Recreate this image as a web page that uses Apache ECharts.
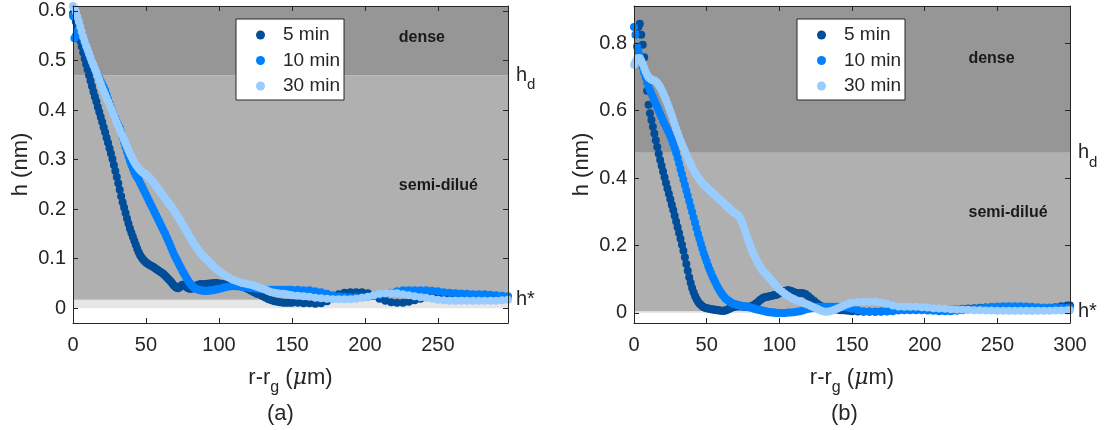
<!DOCTYPE html>
<html><head><meta charset="utf-8">
<script src="https://cdn.jsdelivr.net/npm/echarts@6/dist/echarts.min.js"></script>
<style>html,body{margin:0;padding:0;background:#fff}#c{width:1106px;height:430px}</style>
</head><body><div id="c"></div>
<script>
// sampling positions r-r_g (µm)
const xA = [0,1,2,3,4,5,6,7,8,9,10,11,12,13,14,15,16,17,18,19,20,21,22,23,24,25,26,27,28,29,
30,31,32,33,34,35,36,37,38,39,40,41,42,43,44,45,46,47,48,49,50,51,52,53,54,55,56,57,58,59,
60,61,62,63,64,65,66,67,68,69,70,71,72,73,74,75,76,77,78,79,80,81,82,83,84,85,86,87,88,89,
90,91,92,93,94,95,96,97,98,99,100,
102,104,106,108,110,112,114,116,118,120,122,124,126,128,130,132,134,136,138,140,142,144,146,148,150,
154,158,162,166,170,174,178,182,186,190,194,198,202,206,210,214,218,222,226,230,234,238,242,246,250,
254,258,262,266,270,274,278,282,286,290,294,298];
const xB = xA.concat([300]);

// panel (a)
const a5 = [0.595,0.588,0.578,0.565,0.552,0.540,0.528,0.516,0.504,0.493,
0.482,0.470,0.459,0.448,0.437,0.427,0.417,0.406,0.396,0.386,
0.376,0.365,0.355,0.344,0.334,0.323,0.312,0.301,0.289,0.277,
0.265,0.252,0.239,0.226,0.214,0.203,0.192,0.181,0.171,0.161,
0.152,0.144,0.136,0.128,0.120,0.113,0.107,0.102,0.098,0.095,
0.092,0.090,0.088,0.086,0.085,0.083,0.081,0.079,0.077,0.075,
0.073,0.071,0.069,0.066,0.063,0.060,0.057,0.054,0.050,0.046,
0.043,0.041,0.040,0.042,0.045,0.047,0.046,0.044,0.042,0.040,
0.039,0.039,0.040,0.042,0.044,0.046,0.047,0.048,0.048,0.048,
0.048,0.048,0.049,0.049,0.050,0.050,0.050,0.051,0.051,0.050,
0.050,
0.049,0.048,0.047,0.046,0.045,0.044,0.044,0.043,0.041,0.038,0.035,0.032,0.029,0.027,0.024,
0.021,0.018,0.016,0.014,0.013,0.012,0.011,0.011,0.011,0.011,
0.011,0.010,0.010,0.009,0.010,0.014,0.022,0.028,0.031,0.032,0.032,0.032,0.030,0.025,0.019,
0.015,0.012,0.011,0.011,0.013,0.016,0.019,0.022,0.025,0.027,0.028,0.029,0.029,0.029,0.028,
0.027,0.026,0.025,0.024,0.024,0.023,0.022];
const a10 = [0.590,0.545,0.550,0.558,0.563,0.561,0.555,0.546,0.537,0.528,
0.519,0.511,0.503,0.496,0.489,0.482,0.476,0.470,0.464,0.458,
0.452,0.446,0.440,0.431,0.422,0.413,0.405,0.397,0.390,0.383,
0.376,0.370,0.364,0.355,0.345,0.335,0.325,0.315,0.306,0.297,
0.289,0.282,0.275,0.269,0.264,0.259,0.253,0.247,0.241,0.235,
0.229,0.223,0.217,0.211,0.205,0.199,0.193,0.187,0.181,0.175,
0.169,0.163,0.157,0.151,0.144,0.138,0.131,0.124,0.117,0.110,
0.104,0.098,0.092,0.086,0.081,0.075,0.070,0.065,0.060,0.055,
0.051,0.047,0.044,0.041,0.039,0.038,0.037,0.036,0.036,0.035,
0.035,0.035,0.035,0.035,0.036,0.036,0.036,0.037,0.038,0.038,
0.039,
0.040,0.042,0.043,0.044,0.045,0.045,0.044,0.043,0.042,0.041,0.040,0.040,0.039,0.039,0.038,
0.037,0.037,0.037,0.037,0.037,0.037,0.037,0.037,0.037,0.037,
0.037,0.036,0.036,0.034,0.032,0.029,0.026,0.024,0.023,0.022,0.022,0.022,0.023,0.025,0.027,
0.029,0.031,0.034,0.036,0.036,0.036,0.036,0.036,0.035,0.034,0.032,0.031,0.030,0.029,0.029,
0.028,0.028,0.028,0.027,0.026,0.025,0.024];
const a30 = [0.610,0.606,0.598,0.588,0.578,0.568,0.558,0.548,0.539,0.530,
0.522,0.514,0.506,0.498,0.491,0.484,0.477,0.469,0.461,0.453,
0.445,0.438,0.431,0.424,0.417,0.410,0.403,0.396,0.389,0.381,
0.374,0.367,0.360,0.353,0.347,0.340,0.333,0.326,0.319,0.312,
0.306,0.300,0.295,0.290,0.286,0.282,0.279,0.276,0.274,0.272,
0.270,0.267,0.264,0.261,0.258,0.254,0.250,0.246,0.242,0.238,
0.234,0.230,0.226,0.222,0.218,0.214,0.210,0.206,0.202,0.198,
0.193,0.188,0.184,0.179,0.174,0.169,0.164,0.159,0.154,0.149,
0.144,0.139,0.134,0.129,0.125,0.121,0.117,0.113,0.109,0.106,
0.103,0.100,0.097,0.094,0.091,0.088,0.085,0.082,0.080,0.077,
0.075,
0.071,0.067,0.063,0.060,0.057,0.055,0.053,0.051,0.050,0.048,0.047,0.045,0.043,0.041,0.039,
0.037,0.034,0.032,0.031,0.030,0.029,0.029,0.028,0.027,0.026,
0.025,0.024,0.023,0.021,0.020,0.019,0.018,0.018,0.018,0.018,0.019,0.021,0.023,0.026,0.029,
0.030,0.030,0.030,0.028,0.026,0.024,0.022,0.021,0.019,0.017,0.016,0.015,0.015,0.015,0.015,
0.015,0.015,0.015,0.015,0.015,0.016,0.017];

// panel (b)
const b5 = [null,null,null,0.848,0.857,0.825,0.795,0.758,0.710,0.659,
0.617,0.592,0.572,0.552,0.532,0.512,0.492,0.472,0.453,0.436,
0.419,0.402,0.385,0.369,0.353,0.337,0.321,0.305,0.288,0.271,
0.254,0.237,0.220,0.202,0.184,0.165,0.145,0.125,0.106,0.089,
0.074,0.061,0.050,0.041,0.034,0.028,0.024,0.020,0.017,0.015,
0.014,0.013,0.012,0.011,0.010,0.010,0.009,0.008,0.008,0.007,
0.006,0.006,0.006,0.007,0.009,0.011,0.013,0.015,0.017,0.018,
0.019,0.020,0.020,0.020,0.020,0.019,0.019,0.018,0.018,0.018,
0.019,0.020,0.022,0.025,0.028,0.031,0.035,0.039,0.042,0.045,
0.046,0.047,0.048,0.049,0.050,0.051,0.052,0.053,0.054,0.056,
0.058,
0.062,0.066,0.068,0.066,0.062,0.059,0.059,0.059,0.056,0.049,0.042,0.035,0.028,0.022,0.018,
0.015,0.013,0.011,0.010,0.009,0.008,0.008,0.007,0.006,0.005,
0.004,0.003,0.003,0.003,0.004,0.005,0.007,0.009,0.010,0.011,0.011,0.011,0.010,0.010,0.010,
0.010,0.011,0.011,0.012,0.013,0.014,0.015,0.016,0.016,0.015,0.014,0.013,0.012,0.011,0.010,
0.010,0.011,0.012,0.014,0.017,0.020,0.022,
0.022];
const b10 = [0.848,0.825,0.790,0.775,0.762,0.745,0.728,0.712,0.697,0.683,
0.670,0.660,0.650,0.640,0.630,0.620,0.610,0.600,0.590,0.580,
0.570,0.561,0.552,0.543,0.534,0.524,0.513,0.501,0.488,0.474,
0.459,0.443,0.427,0.411,0.395,0.379,0.363,0.347,0.331,0.315,
0.299,0.283,0.267,0.251,0.235,0.220,0.205,0.191,0.177,0.164,
0.152,0.140,0.129,0.118,0.108,0.099,0.090,0.081,0.073,0.066,
0.059,0.053,0.048,0.043,0.039,0.036,0.033,0.030,0.028,0.026,
0.025,0.024,0.023,0.022,0.021,0.020,0.019,0.018,0.018,0.017,
0.016,0.015,0.014,0.012,0.011,0.010,0.009,0.008,0.007,0.006,
0.005,0.004,0.003,0.002,0.002,0.001,0.001,0.001,0.000,0.000,
0.000,
0.000,0.000,0.001,0.001,0.002,0.003,0.005,0.007,0.010,0.012,0.014,0.016,0.018,0.018,0.018,
0.018,0.018,0.018,0.018,0.018,0.018,0.018,0.017,0.015,0.012,
0.008,0.005,0.004,0.003,0.003,0.004,0.005,0.007,0.008,0.008,0.008,0.008,0.007,0.006,0.005,
0.005,0.005,0.006,0.008,0.010,0.012,0.014,0.016,0.018,0.019,0.020,0.020,0.020,0.020,0.019,
0.018,0.017,0.016,0.016,0.016,0.015,0.015,
0.015];
const b30 = [0.736,0.745,0.752,0.756,0.755,0.748,0.738,0.727,0.716,0.706,
0.699,0.695,0.692,0.690,0.689,0.686,0.682,0.676,0.669,0.661,
0.652,0.642,0.632,0.621,0.609,0.597,0.585,0.572,0.559,0.546,
0.534,0.522,0.511,0.500,0.490,0.480,0.470,0.460,0.450,0.441,
0.432,0.424,0.416,0.409,0.402,0.396,0.390,0.385,0.380,0.376,
0.372,0.368,0.364,0.360,0.356,0.352,0.348,0.344,0.340,0.336,
0.332,0.328,0.324,0.320,0.316,0.312,0.308,0.304,0.300,0.297,
0.294,0.291,0.287,0.281,0.272,0.261,0.249,0.236,0.223,0.210,
0.198,0.187,0.177,0.168,0.159,0.151,0.143,0.136,0.129,0.123,
0.119,0.114,0.109,0.104,0.099,0.094,0.089,0.084,0.079,0.074,
0.069,
0.063,0.056,0.050,0.045,0.041,0.037,0.033,0.030,0.027,0.024,0.020,0.016,0.012,0.008,0.005,
0.003,0.004,0.006,0.009,0.013,0.017,0.021,0.025,0.028,0.030,
0.032,0.033,0.033,0.033,0.031,0.027,0.022,0.019,0.018,0.018,0.018,0.017,0.016,0.014,0.013,
0.012,0.011,0.010,0.010,0.009,0.008,0.008,0.007,0.007,0.006,0.006,0.006,0.006,0.006,0.006,
0.006,0.006,0.006,0.006,0.007,0.007,0.008,
0.008];

const seriesNames = ['5 min', '10 min', '30 min'];
const colors = ['#004d99', '#0080ff', '#99ccff'];
const xTicksA = [0, 50, 100, 150, 200, 250];
const xTicksB = [0, 50, 100, 150, 200, 250, 300];
const yTicksA = [0, 0.1, 0.2, 0.3, 0.4, 0.5, 0.6];
const yTicksB = [0, 0.2, 0.4, 0.6, 0.8];
const hdA = 0.47, hsA = 0.017, hdB = 0.475, hsB = 0.005;
const regionNames = ['dense', 'semi-dilué'];

const FONT = 'Liberation Sans, Arial, Helvetica, sans-serif';
const INK = '#262626';

function pairs(xs, ys) {
  const out = [];
  ys.forEach((y, i) => { if (y !== null) out.push([xs[i], y]); });
  return out;
}

function xAx(gi, min, max, ticks, bottom) {
  return {
    type: 'value', gridIndex: gi, min: min, max: max, position: bottom ? 'bottom' : 'top', z: 5,
    axisLine: { show: true, onZero: false, lineStyle: { color: INK, width: 1 } },
    axisTick: { show: true, inside: true, length: 5, customValues: ticks, lineStyle: { color: INK } },
    axisLabel: { show: bottom, customValues: ticks, color: INK, fontSize: 20, fontFamily: FONT, margin: 12 },
    splitLine: { show: false },
    name: bottom ? 'r-r{g|g} ({mu|μ}m)' : '',
    nameLocation: 'middle', nameGap: 37,
    nameTextStyle: { color: INK, fontSize: 22, fontFamily: FONT,
      rich: { g: { fontSize: 16, fontFamily: FONT, color: INK, padding: [20, 0, 0, 0] },
              mu: { fontSize: 22, fontFamily: 'DejaVu Serif, serif', fontStyle: 'italic', color: INK } } }
  };
}
function yAx(gi, min, max, ticks, left) {
  return {
    type: 'value', gridIndex: gi, min: min, max: max, position: left ? 'left' : 'right', z: 5,
    axisLine: { show: true, onZero: false, lineStyle: { color: INK, width: 1 } },
    axisTick: { show: true, inside: true, length: 5, customValues: ticks, lineStyle: { color: INK } },
    axisLabel: { show: left, customValues: ticks, color: INK, fontSize: 20, fontFamily: FONT, margin: 7 },
    splitLine: { show: false },
    name: left ? 'h (nm)' : '',
    nameLocation: 'middle', nameGap: 41,
    nameTextStyle: { color: INK, fontSize: 22, fontFamily: FONT }
  };
}

function bands(gi, xmax, ymax, hd, hs, posDense, posSemi) {
  return {
    type: 'line', name: 'bands' + gi, xAxisIndex: gi * 2, yAxisIndex: gi * 2, data: [], z: 1, silent: true,
    markArea: {
      silent: true,
      data: [
        [{ xAxis: 0, yAxis: 0, itemStyle: { color: '#e6e6e6' } }, { xAxis: xmax, yAxis: hs }],
        [{ xAxis: 0, yAxis: hs, itemStyle: { color: '#b0b0b0' },
           label: { show: true, formatter: regionNames[1], position: posSemi } }, { xAxis: xmax, yAxis: hd }],
        [{ xAxis: 0, yAxis: hd, itemStyle: { color: '#969696' },
           label: { show: true, formatter: regionNames[0], position: posDense } }, { xAxis: xmax, yAxis: ymax }]
      ],
      label: { color: '#1a1a1a', fontWeight: 'bold', fontSize: 16, fontFamily: FONT, align: 'center', verticalAlign: 'middle' }
    },
    markLine: {
      silent: true, symbol: 'none', animation: false,
      lineStyle: { color: 'rgba(0,0,0,0)', width: 1, type: 'solid' },
      label: { show: true, position: 'end', distance: 8, color: INK, fontSize: 20, fontFamily: FONT,
        rich: { h: { fontSize: 20, fontFamily: FONT, color: INK }, d: { fontSize: 15, fontFamily: FONT, color: INK, padding: [20, 0, 0, 0] } } },
      data: [
        [{ xAxis: 0, yAxis: hd, label: { show: true, formatter: '{h|h}{d|d}' } }, { xAxis: xmax, yAxis: hd }],
        [{ xAxis: 0, yAxis: hs, label: { show: true, formatter: 'h*' } }, { xAxis: xmax, yAxis: hs }]
      ]
    }
  };
}

function scatter(gi, name, color, data) {
  return {
    type: 'scatter', name: name, xAxisIndex: gi * 2, yAxisIndex: gi * 2, data: data,
    symbol: 'circle', symbolSize: 8, itemStyle: { color: color, opacity: 1 }, z: 3, silent: true,
    clip: false
  };
}

function legendAt(left) {
  return {
    left: left, top: 19, orient: 'vertical', data: seriesNames, icon: 'circle',
    itemWidth: 9, itemHeight: 9, itemGap: 5.5, padding: [6, 4, 4, 20],
    backgroundColor: '#ffffff', borderColor: INK, borderWidth: 1, borderRadius: 0,
    textStyle: { color: INK, fontSize: 19, fontFamily: FONT, lineHeight: 20, padding: [0, 0, 0, 13] },
    selectedMode: false
  };
}

const chart = echarts.init(document.getElementById('c'), null, { renderer: 'canvas' });
chart.setOption({
  animation: false,
  backgroundColor: '#ffffff',
  grid: [
    { left: 73, top: 6, width: 435, height: 317 },
    { left: 634, top: 6, width: 436, height: 317 }
  ],
  xAxis: [
    xAx(0, 0, 298, xTicksA, true), xAx(0, 0, 298, xTicksA, false),
    xAx(1, 0, 300, xTicksB, true), xAx(1, 0, 300, xTicksB, false)
  ],
  yAxis: [
    yAx(0, -0.03, 0.61, yTicksA, true), yAx(0, -0.03, 0.61, yTicksA, false),
    yAx(1, -0.03, 0.91, yTicksB, true), yAx(1, -0.03, 0.91, yTicksB, false)
  ],
  legend: [legendAt(236), legendAt(797)],
  series: [
    bands(0, 298, 0.61, hdA, hsA, ['80.2%', '45.5%'], ['84%', '49%']),
    scatter(0, seriesNames[0], colors[0], pairs(xA, a5)),
    scatter(0, seriesNames[1], colors[1], pairs(xA, a10)),
    scatter(0, seriesNames[2], colors[2], pairs(xA, a30)),
    bands(1, 300, 0.91, hdB, hsB, ['82%', '36%'], ['85.8%', '37.5%']),
    scatter(1, seriesNames[0], colors[0], pairs(xB, b5)),
    scatter(1, seriesNames[1], colors[1], pairs(xB, b10)),
    scatter(1, seriesNames[2], colors[2], pairs(xB, b30))
  ],
  graphic: [
    { type: 'text', left: 267, top: 403, style: { text: '(a)', fill: INK, fontSize: 22, fontFamily: FONT } },
    { type: 'text', left: 831, top: 403, style: { text: '(b)', fill: INK, fontSize: 22, fontFamily: FONT } }
  ]
});
</script>
</body></html>
